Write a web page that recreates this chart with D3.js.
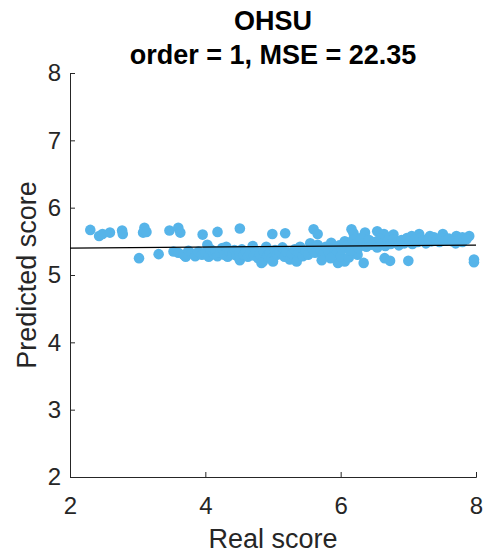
<!DOCTYPE html>
<html>
<head>
<meta charset="utf-8">
<script src="https://cdn.jsdelivr.net/npm/d3@7"></script>
<style>
  body { margin: 0; background: #fff; }
  svg { display: block; font-family: "Liberation Sans", Arial, sans-serif; }
</style>
</head>
<body>
<svg id="chart"></svg>
<script>
// Real score (x) and predicted score (y)
const realScore = [
  2.30, 2.43, 2.48, 2.59, 2.77, 2.78, 3.10, 3.08, 3.13, 3.47, 3.60, 3.63, 3.96, 4.18, 4.51, 4.99,
  5.18, 5.60, 5.66, 6.16, 6.19, 6.36, 6.54, 6.64, 6.78, 7.05, 7.16, 7.32, 7.51, 7.71, 7.90, 7.80,
  3.02, 3.31, 3.53, 3.71, 4.85, 5.96, 6.06, 6.34, 6.65, 6.73, 7.00, 7.97, 7.97,
  3.60, 3.68, 3.75, 3.80, 3.85, 3.90, 3.95, 4.00, 4.03, 4.05, 4.08, 4.12, 4.15, 4.18, 4.22, 4.25,
  4.28, 4.31, 4.33, 4.36, 4.40, 4.43, 4.46, 4.50, 4.51, 4.54, 4.57, 4.60, 4.63, 4.66, 4.70, 4.72,
  4.75, 4.78, 4.80, 4.83, 4.86, 4.90, 4.92, 4.95, 4.98, 5.00, 5.03, 5.06, 5.10, 5.14, 5.17, 5.20,
  5.25, 5.28, 5.32, 5.35, 5.38, 5.40, 5.44, 5.48, 5.52, 5.55, 5.58, 5.62, 5.66, 5.70, 5.74, 5.78,
  5.82, 5.86, 5.90, 5.94, 5.98, 5.72, 5.85, 6.00, 6.12, 6.25,
  6.02, 6.06, 6.10, 6.14, 6.18, 6.22, 6.26, 6.30, 6.34, 6.38, 6.42, 6.46, 6.50, 6.54, 6.58, 6.62,
  6.66, 6.70, 6.74, 6.78, 6.82, 6.86, 6.90, 6.94, 6.98, 7.02, 7.06, 7.10, 7.14, 7.18, 7.22, 7.26,
  7.30, 7.34, 7.38, 7.42, 7.46, 7.50, 7.55, 7.60, 7.65, 7.70, 7.75, 7.80, 7.86
];
const predictedScore = [
  5.67, 5.58, 5.61, 5.63, 5.66, 5.61, 5.70, 5.63, 5.64, 5.66, 5.70, 5.63, 5.60, 5.64, 5.69, 5.61,
  5.62, 5.68, 5.61, 5.68, 5.62, 5.63, 5.65, 5.61, 5.60, 5.58, 5.61, 5.58, 5.61, 5.58, 5.58, 5.56,
  5.25, 5.31, 5.35, 5.27, 5.20, 5.18, 5.20, 5.18, 5.25, 5.21, 5.21, 5.23, 5.19,
  5.33, 5.30, 5.36, 5.32, 5.28, 5.35, 5.30, 5.33, 5.45, 5.27, 5.38, 5.31, 5.35, 5.28, 5.33, 5.40,
  5.30, 5.42, 5.27, 5.34, 5.31, 5.37, 5.29, 5.33, 5.22, 5.38, 5.30, 5.35, 5.27, 5.32, 5.43, 5.29,
  5.35, 5.25, 5.31, 5.18, 5.36, 5.42, 5.28, 5.33, 5.24, 5.20, 5.37, 5.30, 5.34, 5.41, 5.27, 5.35,
  5.23, 5.31, 5.38, 5.20, 5.33, 5.42, 5.28, 5.36, 5.30, 5.47, 5.40, 5.33, 5.45, 5.38, 5.30, 5.42,
  5.35, 5.48, 5.40, 5.32, 5.44, 5.22, 5.25, 5.28, 5.26, 5.30,
  5.38, 5.50, 5.44, 5.36, 5.52, 5.46, 5.40, 5.55, 5.47, 5.42, 5.52, 5.45, 5.49, 5.41, 5.54, 5.47,
  5.43, 5.51, 5.46, 5.53, 5.48, 5.44, 5.52, 5.47, 5.55, 5.50, 5.46, 5.53, 5.49, 5.55, 5.51, 5.47,
  5.54, 5.50, 5.56, 5.52, 5.49, 5.55, 5.51, 5.54, 5.50, 5.47, 5.52, 5.49, 5.53
];
// fitted line (order 1) end points
const fitX = [2, 8];
const fitY = [5.40, 5.445];

const xTicks = [2, 4, 6, 8];
const yTicks = [2, 3, 4, 5, 6, 7, 8];

const width = 490, height = 556;
const margin = { top: 73, right: 14, bottom: 79, left: 70 };
const axisColor = "#262626";

const svg = d3.select("#chart")
    .attr("width", width)
    .attr("height", height);

const x = d3.scaleLinear()
    .domain([2, 8])
    .range([margin.left, width - margin.right]);

const y = d3.scaleLinear()
    .domain([2, 8])
    .range([height - margin.bottom, margin.top]);

// axes (MATLAB style: box off, ticks pointing in)
const xAxis = svg.append("g")
    .attr("transform", `translate(0,${height - margin.bottom})`)
    .call(d3.axisBottom(x).tickValues(xTicks).tickFormat(d3.format("d"))
        .tickSizeInner(-5).tickSizeOuter(-5).tickPadding(20));

const yAxis = svg.append("g")
    .attr("transform", `translate(${margin.left},0)`)
    .call(d3.axisLeft(y).tickValues(yTicks).tickFormat(d3.format("d"))
        .tickSizeInner(-5).tickSizeOuter(-5).tickPadding(9));

[xAxis, yAxis].forEach(g => {
    g.selectAll("path, line").attr("stroke", axisColor).attr("stroke-width", 1);
    g.selectAll("text")
        .attr("fill", axisColor)
        .style("font-size", "24px")
        .style("font-family", "'Liberation Sans', Arial, sans-serif");
});

// points
svg.selectAll(".pt")
    .data(realScore.map((r, i) => ({ r: r, p: predictedScore[i] })))
    .enter().append("circle")
    .attr("class", "pt")
    .attr("cx", d => x(d.r))
    .attr("cy", d => y(d.p))
    .attr("r", 5.3)
    .attr("fill", "#56B4E9");

// fit line
svg.append("line")
    .attr("x1", x(fitX[0]))
    .attr("y1", y(fitY[0]))
    .attr("x2", x(fitX[1]))
    .attr("y2", y(fitY[1]))
    .attr("stroke", "#000")
    .attr("stroke-width", 1.2);

// titles
const cx = (margin.left + width - margin.right) / 2;
svg.append("text")
    .attr("x", cx).attr("y", 30)
    .attr("text-anchor", "middle")
    .attr("font-weight", "bold").attr("font-size", 27)
    .text("OHSU");
svg.append("text")
    .attr("x", cx).attr("y", 64)
    .attr("text-anchor", "middle")
    .attr("font-weight", "bold").attr("font-size", 27)
    .text("order = 1, MSE = 22.35");

svg.append("text")
    .attr("x", cx).attr("y", 548)
    .attr("text-anchor", "middle")
    .attr("font-size", 27).attr("fill", axisColor)
    .text("Real score");

svg.append("text")
    .attr("transform", `translate(36,${(margin.top + height - margin.bottom) / 2}) rotate(-90)`)
    .attr("text-anchor", "middle")
    .attr("font-size", 27).attr("fill", axisColor)
    .text("Predicted score");
</script>
</body>
</html>
